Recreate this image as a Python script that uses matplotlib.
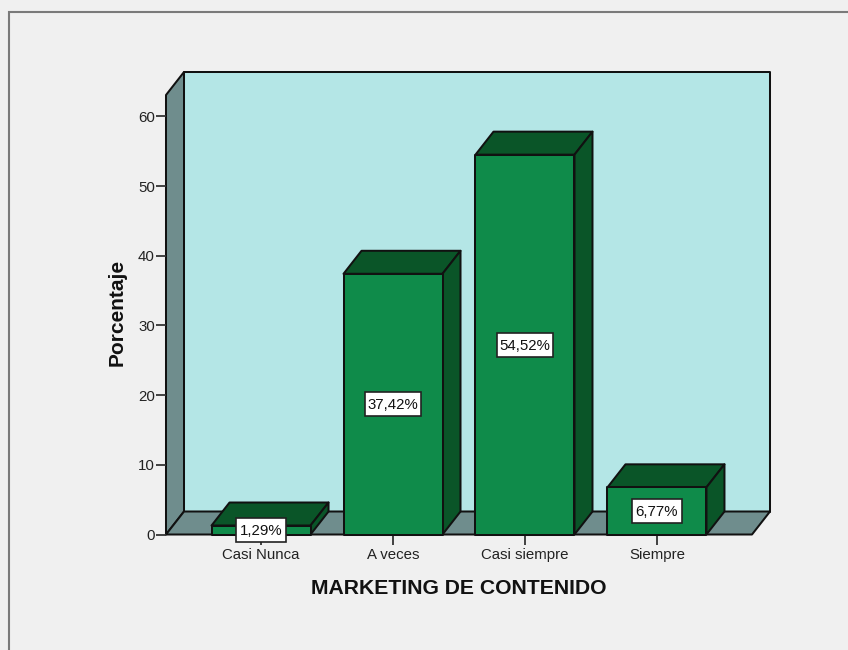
import matplotlib
matplotlib.use('Agg')
import matplotlib.pyplot as plt
from matplotlib.patches import Polygon, Rectangle

plt.rcParams['font.family'] = ['Liberation Sans', 'DejaVu Sans']

# Survey results
categories = ['Casi Nunca', 'A veces', 'Casi siempre', 'Siempre']
percentages = [1.29, 37.42, 54.52, 6.77]
y_ticks = [0, 10, 20, 30, 40, 50, 60]

# Colours
BG = '#f0f0f0'
WALL = '#b4e6e6'
FLOOR = '#6f8d8d'
BAR_FRONT = '#0f8b4a'
BAR_DARK = '#0a5528'
EDGE = '#111111'

W, H = 848, 650
fig = plt.figure(figsize=(W / 100, H / 100), dpi=100, facecolor=BG)

# Outer frame of the chart area
fig.add_artist(Rectangle((8.5 / W, -0.05), 1.0, 1.05 - 12.5 / H, transform=fig.transFigure,
                         facecolor='none', edgecolor='#7a7a7a', linewidth=1.5))

# Axes cover the front plane of the 3D box
left, right, top, bottom = 166, 752, 95, 534.5
x_scale, y_scale = 132, 6.967  # pixels per category, pixels per percent
ax = fig.add_axes([left / W, 1 - bottom / H, (right - left) / W, (bottom - top) / H])
ax.patch.set_visible(False)
ax.set_xlim(-0.72, 3.72)
ax.set_ylim(0, (bottom - top) / y_scale)

# Depth of the 3D effect, in data units
dx = 18 / x_scale
dy = 23 / y_scale
x0, x1 = ax.get_xlim()
y0, y1 = ax.get_ylim()


def poly(points, color, z):
    ax.add_patch(Polygon(points, closed=True, facecolor=color, edgecolor=EDGE,
                         linewidth=1.45, joinstyle='round', clip_on=False, zorder=z))


# Box walls
poly([(x0 + dx, y0 + dy), (x1 + dx, y0 + dy), (x1 + dx, y1 + dy), (x0 + dx, y1 + dy)], WALL, 1)
poly([(x0, y0), (x0 + dx, y0 + dy), (x0 + dx, y1 + dy), (x0, y1)], FLOOR, 1.1)
poly([(x0, y0), (x1, y0), (x1 + dx, y0 + dy), (x0 + dx, y0 + dy)], FLOOR, 1.1)

# Bars with their top and side faces, value label boxes in the middle
bar_w = 0.75
box_h = 24 / y_scale
for i, (cat, val) in enumerate(zip(categories, percentages)):
    a, b = i - bar_w / 2, i + bar_w / 2
    poly([(a, val), (b, val), (b + dx, val + dy), (a + dx, val + dy)], BAR_DARK, 2)
    poly([(b, 0), (b + dx, dy), (b + dx, val + dy), (b, val)], BAR_DARK, 2)
    poly([(a, 0), (b, 0), (b, val), (a, val)], BAR_FRONT, 2.1)
    label = f'{val:.2f}%'.replace('.', ',')
    box_w = (20 + 6 * len(label)) / x_scale
    ax.add_patch(Rectangle((i - box_w / 2, val / 2 - box_h / 2), box_w, box_h, facecolor='white',
                           edgecolor='#222222', linewidth=1.2, clip_on=False, zorder=5))
    ax.text(i, val / 2 - 1 / y_scale, label, ha='center', va='center',
            fontsize=10.8, color='#111111', zorder=6)

ax.set_xticks(range(len(categories)), categories)
ax.set_yticks(y_ticks)
ax.tick_params(axis='both', length=7, width=1.3, color='#333333', labelcolor='#222222',
               labelsize=10.8, pad=1)
ax.tick_params(axis='x', pad=3)
for s in ax.spines.values():
    s.set_visible(False)

fig.text(458.5 / W, 1 - 589 / H, 'MARKETING DE CONTENIDO', fontsize=15.2, fontweight='bold',
         ha='center', va='center', color='#111111')
fig.text(117 / W, 1 - 312 / H, 'Porcentaje', fontsize=15, fontweight='bold', rotation=90,
         ha='center', va='center', color='#111111')

fig.savefig('out.png', dpi=100, facecolor=BG)
